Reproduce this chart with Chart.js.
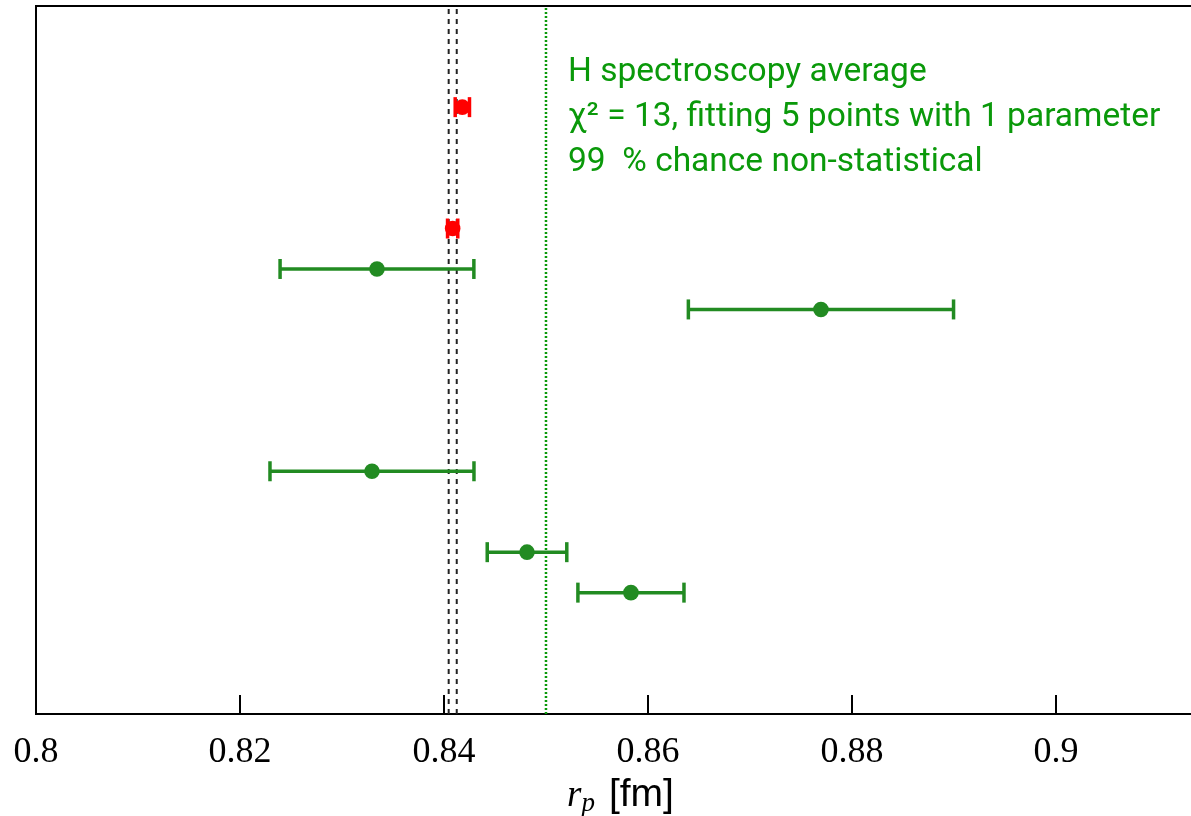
<!DOCTYPE html>
<html>
<head>
<meta charset="utf-8">
<script src="https://cdn.jsdelivr.net/npm/chart.js@4.4.1/dist/chart.umd.min.js"></script>
<style>
    html, body { margin: 0; padding: 0; background: #fff; }
</style>
</head>
<body>
<canvas id="radiusChart" width="1191" height="816"></canvas>
<script>
// rows counted up from the bottom of the frame
const rowPos = [15, 12, 11, 10, 6, 4, 3];
const radius = [0.8418, 0.84085, 0.83343, 0.87696, 0.83294, 0.84814, 0.85833];
const radiusErr = [0.0007, 0.0005, 0.0095, 0.013, 0.010, 0.0039, 0.0052];
const source = ['muH', 'muH', 'H', 'H', 'H', 'H', 'H'];

const bandEdges = [0.84046, 0.84125];
const hAverage = 0.85;
const xTicks = [0.8, 0.82, 0.84, 0.86, 0.88, 0.9];
const noteLines = [
    'H spectroscopy average',
    'χ² = 13, fitting 5 points with 1 parameter',
    '99  % chance non-statistical'
];

const X_MIN = 0.8, X_MAX = 0.91324, Y_MAX = 17.5;
const colors = { muH: '#ff0000', H: '#228b22' };
const noteGreen = '#0a990a';

function initChart() {
    const datasets = [];

    // centre dots (drawn on top)
    datasets.push({
        data: radius.map((r, i) => ({ x: r, y: rowPos[i] })),
        pointRadius: 7.8,
        pointBackgroundColor: source.map(s => colors[s]),
        pointBorderWidth: 0,
        showLine: false,
        order: 0
    });

    // error bars with caps
    radius.forEach((r, i) => {
        const c = colors[source[i]];
        datasets.push({
            data: [{ x: r - radiusErr[i], y: rowPos[i] }, { x: r + radiusErr[i], y: rowPos[i] }],
            showLine: true,
            borderColor: c,
            borderWidth: 3.5,
            pointStyle: 'line',
            rotation: 90,
            pointRadius: 10,
            pointBorderColor: c,
            pointBorderWidth: 3.5,
            order: 1
        });
    });

    // muonic band edges
    bandEdges.forEach(e => {
        datasets.push({
            data: [{ x: e, y: 0 }, { x: e, y: Y_MAX }],
            showLine: true,
            borderColor: '#222',
            borderWidth: 2,
            borderDash: [5, 5],
            pointRadius: 0,
            order: 2
        });
    });

    // H spectroscopy average
    datasets.push({
        data: [{ x: hAverage, y: 0 }, { x: hAverage, y: Y_MAX }],
        showLine: true,
        borderColor: noteGreen,
        borderWidth: 2.5,
        borderDash: [2, 2],
        pointRadius: 0,
        order: 2
    });

    const framePlugin = {
        id: 'frame',
        afterDatasetsDraw(chart) {
            const { ctx, chartArea: a, scales: { x, y } } = chart;
            ctx.save();
            ctx.strokeStyle = '#000';
            ctx.lineWidth = 2;
            ctx.beginPath();
            ctx.moveTo(a.left, a.bottom);
            ctx.lineTo(a.left, a.top);
            ctx.lineTo(a.right, a.top);
            ctx.stroke();
            // inward tick marks
            xTicks.forEach(v => {
                const px = Math.round(x.getPixelForValue(v));
                ctx.beginPath();
                ctx.moveTo(px, a.bottom);
                ctx.lineTo(px, a.bottom - 19);
                ctx.stroke();
            });

            // annotation
            ctx.fillStyle = noteGreen;
            ctx.font = '33.5px Roboto';
            ctx.textBaseline = 'alphabetic';
            ctx.textAlign = 'left';
            const tx = x.getPixelForValue(0.85216);
            const ty = y.getPixelForValue(15.65);
            noteLines.forEach((t, i) => ctx.fillText(t, tx, ty + i * 45));

            // axis title: r_p [fm]
            const base = 806;
            ctx.fillStyle = '#000';
            ctx.font = 'italic 37px "Liberation Serif"';
            const wR = ctx.measureText('r').width;
            ctx.font = 'italic 27px "Liberation Serif"';
            const wP = ctx.measureText('p').width;
            ctx.font = '39px "Liberation Sans"';
            const wF = ctx.measureText('[fm]').width;
            const gap = 14;
            let sx = (a.left + a.right) / 2 + 7 - (wR + wP + gap + wF) / 2;
            ctx.font = 'italic 37px "Liberation Serif"';
            ctx.fillText('r', sx, base);
            sx += wR;
            ctx.font = 'italic 27px "Liberation Serif"';
            ctx.fillText('p', sx, base + 5);
            sx += wP + gap;
            ctx.font = '39px "Liberation Sans"';
            ctx.fillText('[fm]', sx, base);
            ctx.restore();
        }
    };

    const ctx = document.getElementById('radiusChart').getContext('2d');
    new Chart(ctx, {
        type: 'scatter',
        data: { datasets },
        options: {
            responsive: false,
            animation: false,
            devicePixelRatio: 1,
            layout: { autoPadding: false, padding: { left: 36, top: 6, right: 0, bottom: 0 } },
            plugins: {
                legend: { display: false },
                tooltip: { enabled: false }
            },
            scales: {
                x: {
                    type: 'linear',
                    min: X_MIN,
                    max: X_MAX,
                    afterFit: s => { s.height = 102; s.paddingLeft = 0; s.paddingRight = 0; },
                    afterBuildTicks: s => { s.ticks = xTicks.map(v => ({ value: v })); },
                    ticks: {
                        color: '#000',
                        padding: 9,
                        font: { family: 'Liberation Serif', size: 36 },
                        maxRotation: 0,
                        callback: v => String(Number(v.toFixed(2)))
                    },
                    grid: { display: false },
                    border: { display: true, color: '#000', width: 2 }
                },
                y: {
                    display: false,
                    min: 0,
                    max: Y_MAX
                }
            }
        },
        plugins: [framePlugin]
    });
}

document.addEventListener('DOMContentLoaded', initChart);
</script>
</body>
</html>
